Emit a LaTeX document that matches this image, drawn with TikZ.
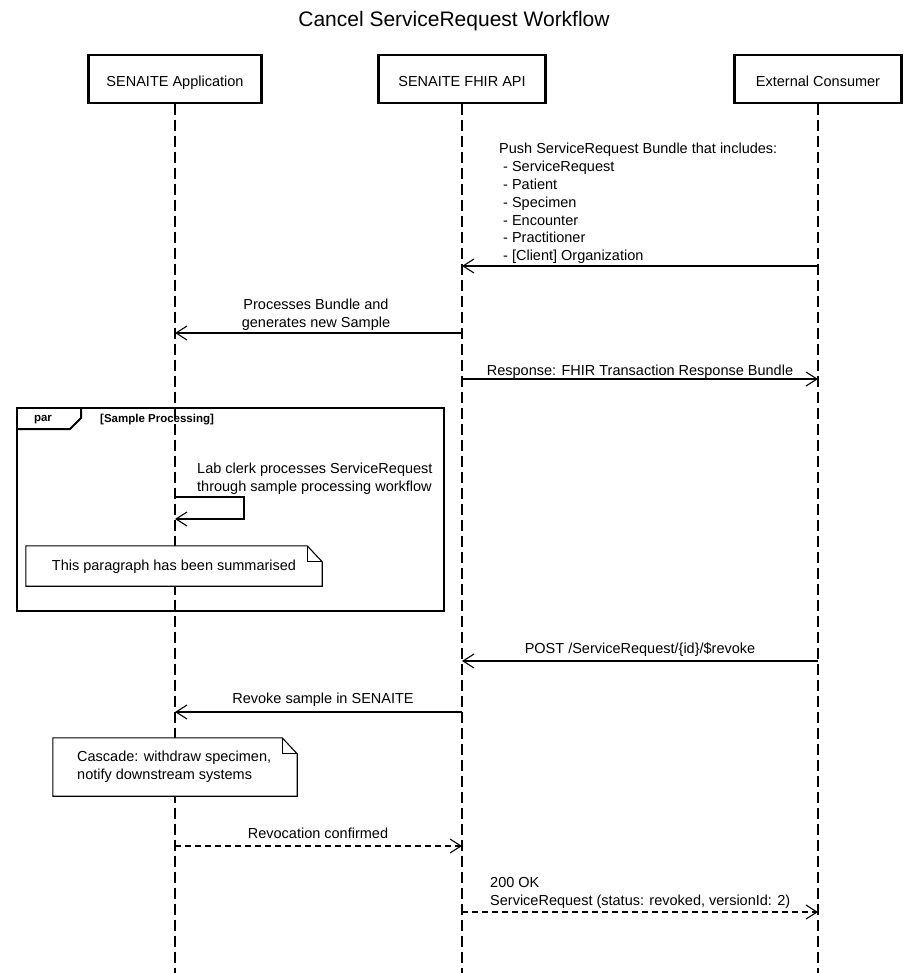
\documentclass[tikz,border=0pt]{standalone}
\usepackage{fontspec}
\setmainfont{Liberation Sans}
\usetikzlibrary{arrows.meta}
\begin{document}
\begin{tikzpicture}[x=1pt,y=-1pt,
  actor/.style={draw,line width=2.5pt,minimum height=48pt,inner sep=0pt,text height=15pt,text depth=0pt,font=\fontsize{14.5}{17.5}\selectfont},
  life/.style={line width=1.2pt,dash pattern=on 11pt off 5pt},
  msg/.style={line width=1.1pt,-{Straight Barb[length=11pt,width=14pt,line width=1.1pt]}},
  reply/.style={msg,dash pattern=on 6pt off 4pt},
  lbl/.style={font=\fontsize{14.5}{17.8}\selectfont,inner sep=0pt},
  notebox/.style={fill=white,line width=1.1pt},
  frame/.style={line width=2pt},
  framelbl/.style={font=\fontsize{11.5}{13}\selectfont\bfseries,inner sep=0pt}
]
\useasboundingbox (0,0) rectangle (908,973);

% title
\node[lbl,font=\fontsize{21}{25}\selectfont] (title) at (454,21) {Cancel ServiceRequest Workflow};

% actors
\node[actor,minimum width=173pt] (A) at (175,79) {SENAITE Application};
\node[actor,minimum width=167pt] (F) at (462,79) {SENAITE FHIR API};
\node[actor,minimum width=167pt] (E) at (818,79) {External Consumer};

% lifeline ends
\coordinate (Aend) at (175,973);
\coordinate (Fend) at (462,973);
\coordinate (Eend) at (818,973);
\draw[life] (A.south) -- (Aend);
\draw[life] (F.south) -- (Fend);
\draw[life] (E.south) -- (Eend);

% message 1
\coordinate (e1) at (818,266); \coordinate (f1) at (462,266);
\draw[msg] (e1) -- (f1);
\node[lbl,align=left,anchor=west] (l1) at (499,203.5)
  {Push ServiceRequest Bundle that includes:\\
   \hspace*{4pt}- ServiceRequest\\
   \hspace*{4pt}- Patient\\
   \hspace*{4pt}- Specimen\\
   \hspace*{4pt}- Encounter\\
   \hspace*{4pt}- Practitioner\\
   \hspace*{4pt}- [Client] Organization};

% message 2
\coordinate (f2) at (462,333); \coordinate (a2) at (175,333);
\draw[msg] (f2) -- (a2);
\node[lbl,align=center] (l2) at (316,315) {Processes Bundle and\\generates new Sample};

% message 3
\coordinate (f3) at (462,379); \coordinate (e3) at (818,379);
\draw[msg] (f3) -- (e3);
\node[lbl] (l3) at (640,371.5) {Response: FHIR Transaction Response Bundle};

% par frame
\node[draw,frame,minimum width=427pt,minimum height=203pt,inner sep=0pt] (par) at (230.5,509.5) {};
\draw[frame] ([yshift=-22pt]par.north west) -- ++(54,0) -- ++(11,-11) -- ++(0,-11);
\node[framelbl] (parlbl) at (43,420) {par};
\node[framelbl,anchor=west] (cond) at (100,420) {[Sample Processing]};

% self message
\coordinate (s1) at (175,497); \coordinate (s2) at (244,497);
\coordinate (s3) at (244,519); \coordinate (s4) at (175,519);
\draw[msg] (s1) -- (s2) -- (s3) -- (s4);
\node[lbl,align=left,anchor=west] (ls) at (197,479) {Lab clerk processes ServiceRequest\\through sample processing workflow};

% note 1
\node[minimum width=296pt,minimum height=40pt,inner sep=0pt] (n1) at (174,566) {};
\draw[notebox] (n1.south west) -- (n1.north west) -- ([xshift=-15pt]n1.north east)
  -- ([yshift=-16pt]n1.north east) -- (n1.south east) -- cycle;
\draw[line width=1.1pt] ([xshift=-15pt]n1.north east) |- ([yshift=-16pt]n1.north east);
\node[lbl] (n1t) at (174,567) {This paragraph has been summarised};

% message 4
\coordinate (e4) at (818,661); \coordinate (f4) at (462,661);
\draw[msg] (e4) -- (f4);
\node[lbl] (l4) at (640,650) {POST /ServiceRequest/\{id\}/\$revoke};

% message 5
\coordinate (f5) at (462,712); \coordinate (a5) at (175,712);
\draw[msg] (f5) -- (a5);
\node[lbl] (l5) at (323,699.5) {Revoke sample in SENAITE};

% note 2
\node[minimum width=244pt,minimum height=58pt,inner sep=0pt] (n2) at (175,767) {};
\draw[notebox] (n2.south west) -- (n2.north west) -- ([xshift=-15pt]n2.north east)
  -- ([yshift=-16pt]n2.north east) -- (n2.south east) -- cycle;
\draw[line width=1.1pt] ([xshift=-15pt]n2.north east) |- ([yshift=-16pt]n2.north east);
\node[lbl,align=left,anchor=west] (n2t) at (77,767) {Cascade: withdraw specimen,\\notify downstream systems};

% message 6
\coordinate (a6) at (175,846); \coordinate (f6) at (462,846);
\draw[reply] (a6) -- (f6);
\node[lbl] (l6) at (318,833) {Revocation confirmed};

% message 7
\coordinate (f7) at (462,912); \coordinate (e7) at (818,912);
\draw[reply] (f7) -- (e7);
\node[lbl,align=left,anchor=west] (l7) at (490,893) {200 OK\\ServiceRequest (status: revoked, versionId: 2)};
\end{tikzpicture}
\end{document}
